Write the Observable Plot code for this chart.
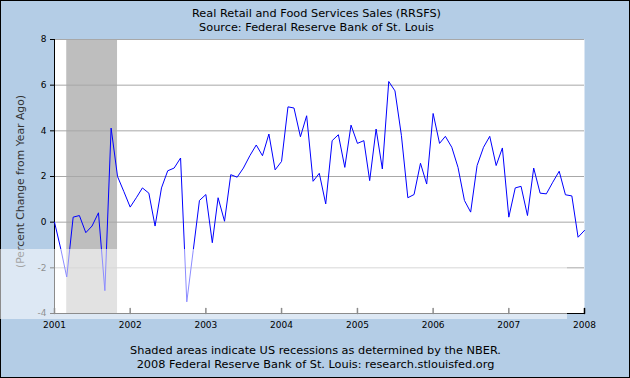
<!DOCTYPE html>
<html><head><meta charset="utf-8">
<script src="https://cdn.jsdelivr.net/npm/d3@7"></script>
<script src="https://cdn.jsdelivr.net/npm/@observablehq/plot@0.6"></script>
<style>
body{margin:0;background:#fff;}
#wrap{position:relative;width:630px;height:378px;overflow:hidden;}
#wrap svg{display:block;outline:1px solid #000;outline-offset:-1px;}
#band{position:absolute;left:0;top:249px;width:567px;height:70px;background:rgba(255,255,255,0.55);pointer-events:none;}
</style></head><body><div id="wrap"></div>
<script>
const titleLines = ["Real Retail and Food Services Sales (RRSFS)", "Source: Federal Reserve Bank of St. Louis"];
const footerLines = ["Shaded areas indicate US recessions as determined by the NBER.", "2008 Federal Reserve Bank of St. Louis: research.stlouisfed.org"];
const yLabel = "(Percent Change from Year Ago)";
const firstMonth = "2001-01-01";
// monthly % change from year ago, Jan 2001 .. Jan 2008
const values = [
  0.0, -1.2, -2.4, 0.22, 0.29, -0.46, -0.17, 0.41, -3.0, 4.12, 2.0, 1.35,
  0.66, 1.09, 1.5, 1.27, -0.17, 1.5, 2.25, 2.37, 2.81, -3.49, -1.24, 0.95,
  1.21, -0.9, 1.07, 0.04, 2.08, 1.97, 2.37, 2.91, 3.38, 2.91, 3.86, 2.29,
  2.66, 5.05, 5.0, 3.74, 4.66, 1.79, 2.14, 0.8, 3.57, 3.83, 2.4, 4.25,
  3.45, 3.57, 1.82, 4.08, 2.33, 6.16, 5.75, 3.8, 1.07, 1.21, 2.58, 1.67,
  4.76, 3.45, 3.76, 3.28, 2.4, 0.95, 0.44, 2.48, 3.28, 3.76, 2.48, 3.25,
  0.22, 1.5, 1.57, 0.29, 2.37, 1.27, 1.24, 1.75, 2.23, 1.2, 1.15, -0.66,
  -0.36
];
const yearTicks = ["2001", "2002", "2003", "2004", "2005", "2006", "2007", "2008"];
const yTicks = [-4, -2, 0, 2, 4, 6, 8];
const gridValues = [-2, 0, 2, 4, 6, 8];
const recessions = [{start: "2001-03-01", end: "2001-11-01"}];

const start = new Date(firstMonth);
const series = values.map((v, i) => ({date: d3.utcMonth.offset(start, i), value: v}));
const years = yearTicks.map(y => new Date(`${y}-01-01`));
const tickUp = {draw(context, l) { context.moveTo(0, 0); context.lineTo(0, -l); }};

const font = "DejaVu Sans, Verdana, sans-serif";
const chart = Plot.plot({
  width: 630, height: 378,
  marginLeft: 54, marginRight: 46, marginTop: 39, marginBottom: 65,
  style: {background: "#b4cde6", fontFamily: font, fontSize: "9px", color: "#000", overflow: "visible"},
  x: {type: "utc", domain: [years[0], years[years.length - 1]]},
  y: {domain: [yTicks[0], yTicks[yTicks.length - 1]]},
  marks: [
    Plot.frame({fill: "white"}),
    Plot.rect(recessions, {x1: d => new Date(d.start), x2: d => new Date(d.end), fill: "#bebebe"}),
    Plot.ruleY(gridValues, {stroke: "#a8a8a8", strokeWidth: 1}),
    Plot.ruleY([yTicks[0]], {stroke: "#000"}),
    Plot.ruleX([years[0]], {stroke: "#000"}),
    Plot.line(series, {x: "date", y: "value", stroke: "#0000ff", strokeWidth: 1}),
    Plot.axisY(yTicks, {tickSize: 4, tickPadding: 4, tickFormat: d => String(d), label: null, fontSize: 9}),
    Plot.axisX(years, {tickSize: 0, tickPadding: 8, tickFormat: d3.utcFormat("%Y"), label: null, fontSize: 9}),
    Plot.vector(years, {x: d => d, y: yTicks[0], length: 5, anchor: "start", shape: tickUp, stroke: "#000"}),
    Plot.text([yLabel], {frameAnchor: "left", textAnchor: "middle", rotate: -90, dx: -34, dy: 5, fontSize: 10.8, fill: "#333"}),
    Plot.text([titleLines[0]], {frameAnchor: "top", dx: -3, dy: -31, fontSize: 11.3, fill: "#000"}),
    Plot.text([titleLines[1]], {frameAnchor: "top", dx: -3, dy: -17, fontSize: 11.3, fill: "#000"}),
    Plot.text([footerLines[0]], {frameAnchor: "bottom", dx: -4, dy: 40, fontSize: 11.3, fill: "#000"}),
    Plot.text([footerLines[1]], {frameAnchor: "bottom", dx: -4, dy: 54, fontSize: 11.3, fill: "#000"})
  ]
});
const wrap = document.getElementById("wrap");
wrap.appendChild(chart);
const band = document.createElement("div");
band.id = "band";
wrap.appendChild(band);
</script>
</body></html>
